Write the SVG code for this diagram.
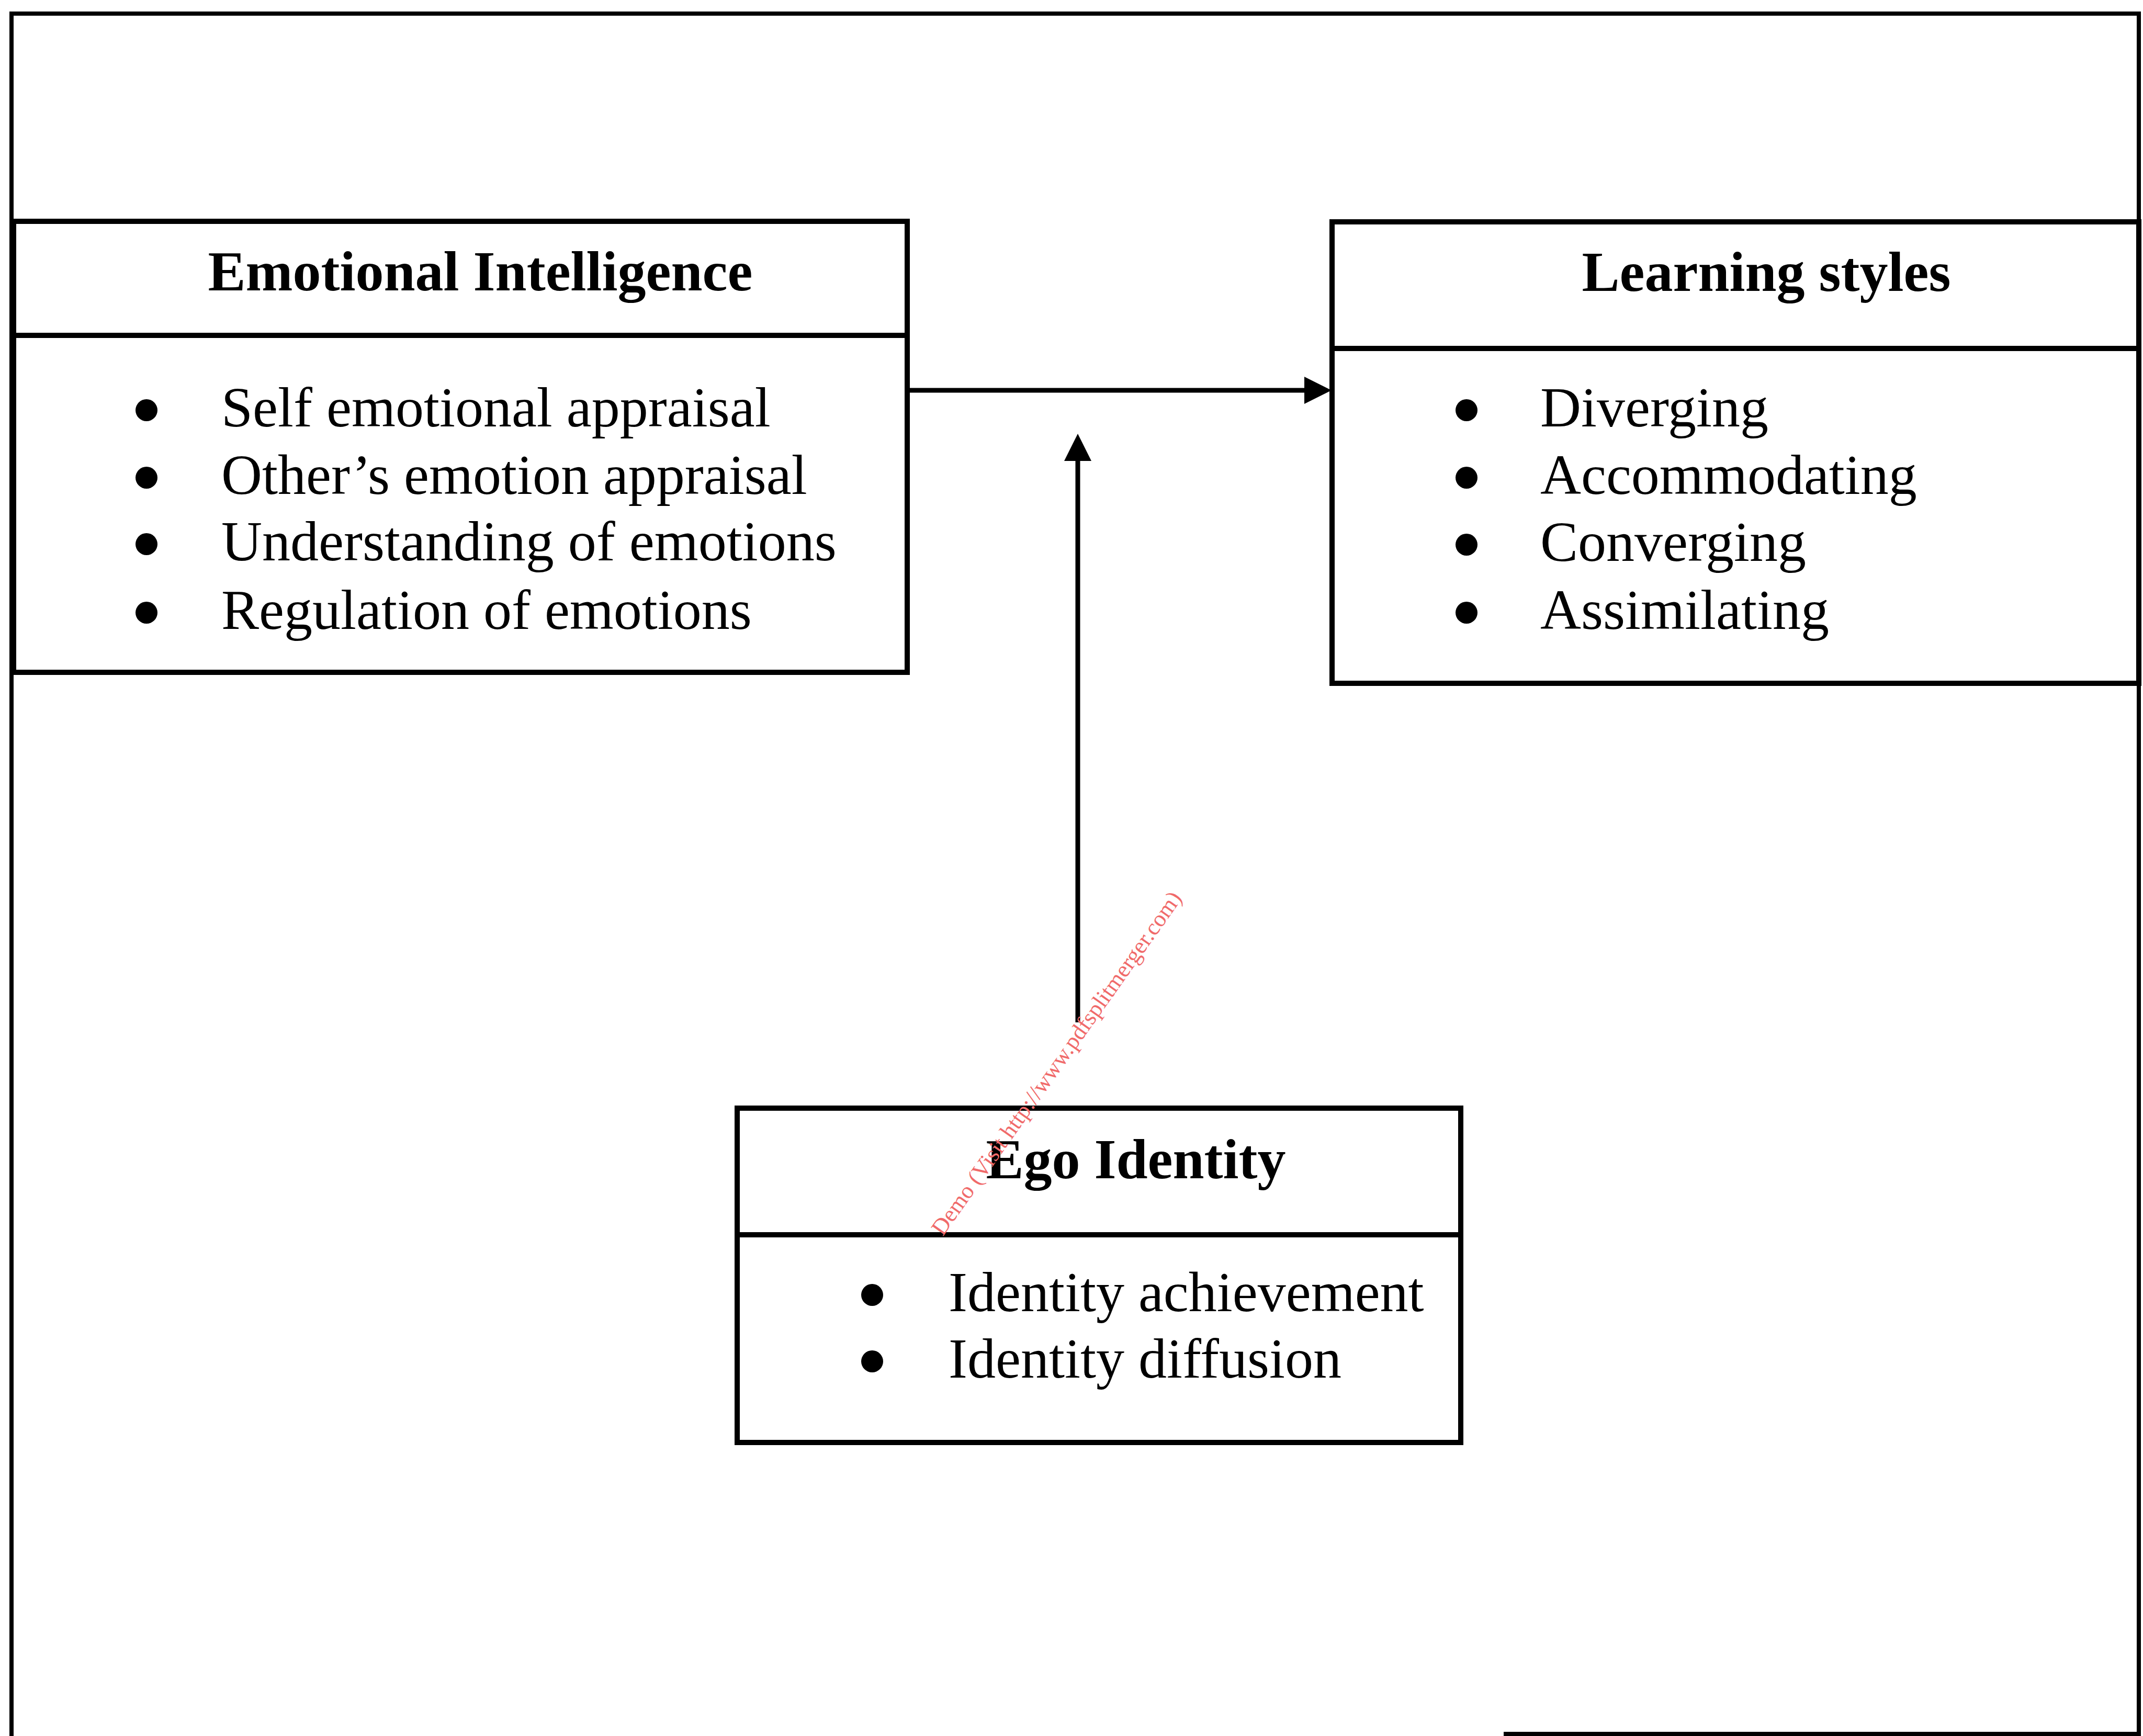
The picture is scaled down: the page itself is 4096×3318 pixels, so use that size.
<svg xmlns="http://www.w3.org/2000/svg" width="4096" height="3318" viewBox="0 0 4096 3318">
<defs>
<style>
.frame{fill:none;stroke:#000;stroke-width:8}
.box{fill:none;stroke:#000;stroke-width:10}
.div{stroke:#000;stroke-width:10}
.conn{fill:none;stroke:#000;stroke-width:9}
.title{font-family:"Liberation Serif","Times New Roman",serif;font-weight:bold;font-size:108px;fill:#000;text-anchor:middle}
.item{font-family:"Liberation Serif","Times New Roman",serif;font-size:108px;fill:#000}
.dot{fill:#000}
.wm{font-family:"Liberation Serif","Times New Roman",serif;font-size:44px;fill:#f06a6a}
</style>
<marker id="arrow" markerUnits="userSpaceOnUse" markerWidth="52" markerHeight="52" refX="42" refY="26" orient="auto" viewBox="0 0 52 52">
<path d="M0,0 L52,26 L0,52 z" fill="#000"/>
</marker>
</defs>
<rect width="4096" height="3318" fill="#fff"/>
<g id="frame">
<path class="frame" d="M22,3318 L22,26 L4088,26 L4088,3318"/>
<line class="frame" x1="2874" y1="3314" x2="4090" y2="3314"/>
</g>
<g id="emotional-intelligence">
<rect class="box" x="26" y="423" width="1708" height="862"/>
<line class="div" x1="26" y1="641" x2="1734" y2="641"/>
<text class="title" x="918" y="555">Emotional Intelligence</text>
<circle class="dot" cx="280" cy="784" r="21"/>
<circle class="dot" cx="280" cy="913" r="21"/>
<circle class="dot" cx="280" cy="1040" r="21"/>
<circle class="dot" cx="280" cy="1171" r="21"/>
<text class="item" x="423" y="815">Self emotional appraisal</text>
<text class="item" x="423" y="944">Other’s emotion appraisal</text>
<text class="item" x="423" y="1071">Understanding of emotions</text>
<text class="item" x="423" y="1202">Regulation of emotions</text>
</g>
<g id="learning-styles">
<rect class="box" x="2546" y="424" width="1542" height="882"/>
<line class="div" x1="2546" y1="666" x2="4090" y2="666"/>
<text class="title" x="3376" y="556">Learning styles</text>
<circle class="dot" cx="2803" cy="784" r="21"/>
<circle class="dot" cx="2803" cy="913" r="21"/>
<circle class="dot" cx="2803" cy="1041" r="21"/>
<circle class="dot" cx="2803" cy="1171" r="21"/>
<text class="item" x="2944" y="815">Diverging</text>
<text class="item" x="2944" y="944">Accommodating</text>
<text class="item" x="2944" y="1072">Converging</text>
<text class="item" x="2944" y="1202">Assimilating</text>
</g>
<g id="ego-identity">
<rect class="box" x="1409" y="2118" width="1383" height="639"/>
<line class="div" x1="1409" y1="2360" x2="2792" y2="2360"/>
<text class="title" x="2171" y="2252">Ego Identity</text>
<circle class="dot" cx="1667" cy="2475" r="21"/>
<circle class="dot" cx="1667" cy="2602" r="21"/>
<text class="item" x="1813" y="2506">Identity achievement</text>
<text class="item" x="1813" y="2633">Identity diffusion</text>
</g>
<g id="connectors">
<line class="conn" x1="1734" y1="746" x2="2535" y2="746" marker-end="url(#arrow)"/>
<line class="conn" x1="2060" y1="1954" x2="2060" y2="839" marker-end="url(#arrow)"/>
</g>
<text class="wm" transform="translate(1802,2364) rotate(-54.7)">Demo (Visit http://www.pdfsplitmerger.com)</text>
</svg>
